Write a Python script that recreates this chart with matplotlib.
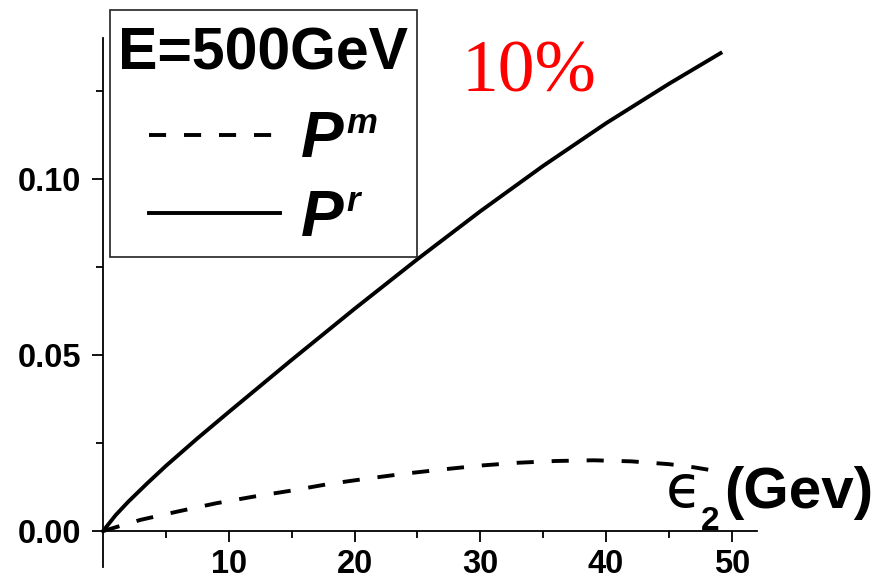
import matplotlib
matplotlib.use("Agg")
import matplotlib.pyplot as plt
from matplotlib.ticker import FixedLocator, FixedFormatter
from matplotlib.offsetbox import TextArea, HPacker, VPacker, DrawingArea

# energy of the second particle (GeV)
eps_r = [0, 1, 2, 3.5, 5, 7.5, 10, 15, 20, 25, 30, 35, 40, 45, 49.1]
p_r = [0, 0.0045, 0.0083, 0.0135, 0.0185, 0.0263, 0.0338, 0.0486, 0.0631,
       0.0772, 0.0908, 0.1037, 0.1158, 0.1270, 0.1357]

eps_m = [0, 3, 6, 9, 12, 15, 18, 21, 24, 27, 30, 33, 36, 39, 42, 45, 47, 49]
p_m = [0, 0.0032, 0.0056, 0.0079, 0.0098, 0.0115, 0.0134, 0.0149, 0.0163, 0.0175,
       0.0186, 0.0194, 0.0199, 0.0201, 0.0198, 0.0190, 0.0181, 0.0169]

x_major = [10, 20, 30, 40, 50]
x_minor = [5, 15, 25, 35, 45]
y_major = [0.0, 0.05, 0.10]
y_labels = ["0.00", "0.05", "0.10"]
y_minor = [0.025, 0.075, 0.125]

W, H = 885, 579
fig = plt.figure(figsize=(W / 100, H / 100), dpi=100)
ax = fig.add_axes([103 / W, 1 - 567 / H, 654 / W, 529 / H])

lw = 2.8
line_m, = ax.plot(eps_m, p_m, color="black", lw=lw, dashes=(4.4, 4.6), clip_on=False)
line_r, = ax.plot(eps_r, p_r, color="black", lw=lw, clip_on=False)

ax.set_xlim(0, 52)
ax.set_ylim(-0.0102, 0.140)

for side in ("top", "right"):
    ax.spines[side].set_visible(False)
ax.spines["left"].set_position(("data", 0))
ax.spines["bottom"].set_position(("data", 0))
for side in ("left", "bottom"):
    ax.spines[side].set_linewidth(1.3)

ax.xaxis.set_major_locator(FixedLocator(x_major))
ax.xaxis.set_minor_locator(FixedLocator(x_minor))
ax.yaxis.set_major_locator(FixedLocator(y_major))
ax.yaxis.set_major_formatter(FixedFormatter(y_labels))
ax.yaxis.set_minor_locator(FixedLocator(y_minor))

tick_font = dict(family="Liberation Sans", weight="bold", size=23.5)
ax.tick_params(which="major", direction="out", length=8, width=1.3)
ax.tick_params(axis="y", which="major", pad=8)
ax.tick_params(axis="x", which="major", pad=5)
ax.tick_params(which="minor", direction="out", length=5, width=1.3)
for lab in ax.get_xticklabels() + ax.get_yticklabels():
    lab.set_fontproperties(tick_font)

# legend box with title
leg = ax.legend([line_m, line_r], ["P", "P"], title="E=500GeV",
                loc="upper left", bbox_to_anchor=(0.0107, 1.053), borderaxespad=0,
                prop=dict(family="Liberation Sans", weight="bold", style="italic", size=46),
                title_fontproperties=dict(family="Liberation Sans", weight="bold", size=42.5),
                handlelength=2.05, handletextpad=0.33, labelspacing=0.23,
                borderpad=0.13, fancybox=False, framealpha=1)
leg.get_frame().set_edgecolor("#222222")
leg.get_frame().set_linewidth(1.2)

# raised superscripts packed next to each "P" label
sup_props = dict(family="Liberation Sans", weight="bold", style="italic",
                 size=25, linespacing=0.68)
rows = [r for col in leg._legend_handle_box.get_children() for r in col.get_children()]
for row, sup in zip(rows, ["m", "r"]):
    label_box = row.get_children()[1]
    packed = HPacker(children=[label_box, TextArea(sup + "\n ", textprops=sup_props)],
                     pad=0, sep=2, align="baseline")
    packed.set_figure(fig)
    row.get_children()[1] = packed

# a little extra room above the title, and a wider gap below it
box_children = leg._legend_box.get_children()
title_stack = VPacker(children=[DrawingArea(1, 6), box_children[0]], pad=0, sep=0,
                      align="center")
title_stack.set_figure(fig)
box_children[0] = title_stack
leg._legend_box.sep = 18

# red annotation
fig.text(461 / W, 1 - 92 / H, "10%", color="red", family="Liberation Serif",
         size=53, ha="left", va="baseline")

# x-axis label pieces
fig.text(666 / W, 1 - 507 / H, "\u03f5", family="DejaVu Sans", size=42,
         ha="left", va="baseline")
fig.text(701 / W, 1 - 530 / H, "2", family="Liberation Sans", weight="bold", size=24,
         ha="left", va="baseline")
fig.text(724 / W, 1 - 508 / H, "(Gev)", family="Liberation Sans", weight="bold", size=42,
         ha="left", va="baseline")

fig.savefig("out.png", dpi=100)
